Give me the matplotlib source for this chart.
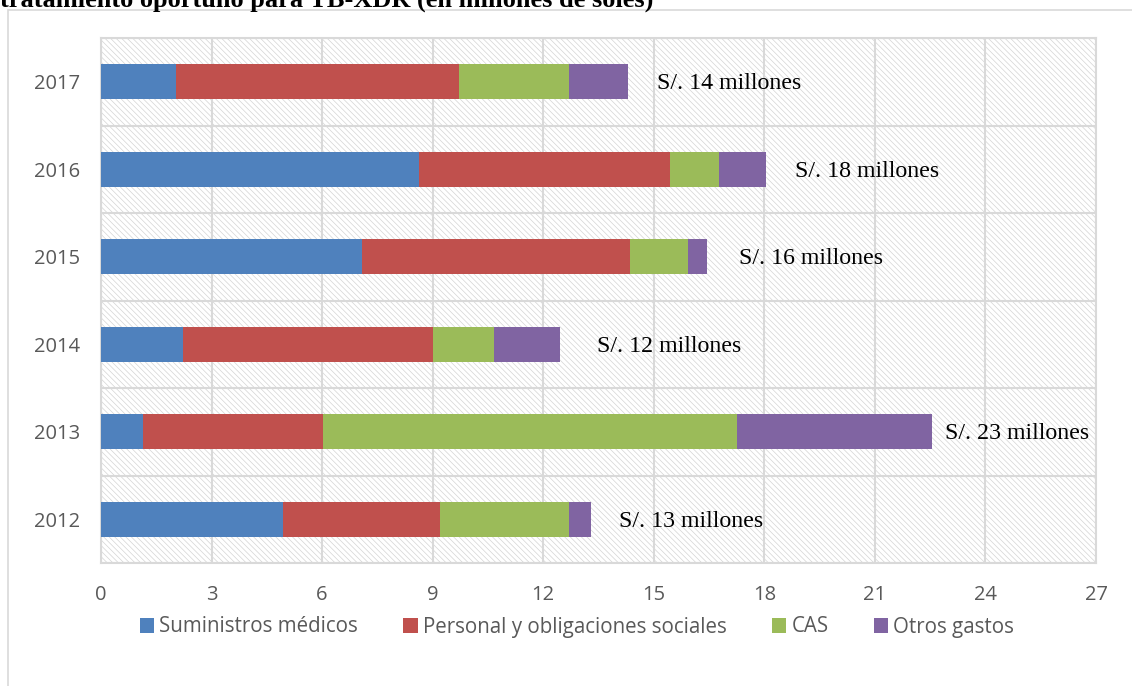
import matplotlib
matplotlib.use("Agg")
import matplotlib.pyplot as plt
from matplotlib.patches import Rectangle
import numpy as np

# Data (millones de soles)
years = ["2012", "2013", "2014", "2015", "2016", "2017"]
suministros = [4.93, 1.13, 2.23, 7.07, 8.62, 2.04]
personal = [4.27, 4.90, 6.79, 7.29, 6.83, 7.68]
cas = [3.51, 11.24, 1.65, 1.58, 1.32, 2.97]
otros = [0.59, 5.28, 1.79, 0.50, 1.27, 1.60]
total_labels = ["S/. 13 millones", "S/. 23 millones", "S/. 12 millones",
                "S/. 16 millones", "S/. 18 millones", "S/. 14 millones"]

series_names = ["Suministros médicos", "Personal y obligaciones sociales", "CAS", "Otros gastos"]
colors = ["#4F81BD", "#C0504D", "#9BBB59", "#8064A2"]

plt.rcParams["hatch.linewidth"] = 0.5
plt.rcParams["hatch.color"] = "#d4d4d4"

fig = plt.figure(figsize=(11.32, 6.86), dpi=100)

# outer chart frame (runs off the right/bottom edge like the source)
fig.patches.append(Rectangle((8 / 1132, -0.1), 1.2, 1 - 10 / 686 + 0.1, transform=fig.transFigure,
                             fill=False, edgecolor="#d9d9d9", linewidth=1.2))

# cropped title at the very top
fig.text(0.0, 1 - 7 / 686, "tratamiento oportuno para TB-XDR (en millones de soles)",
         family="Liberation Serif", fontweight="bold", fontsize=19, va="baseline", ha="left")

ax = fig.add_axes([101 / 1132, 1 - 563 / 686, 995 / 1132, 525 / 686])
ax.add_patch(Rectangle((0, 0), 1, 1, transform=ax.transAxes, facecolor="white",
                       hatch="\\\\\\\\\\\\", edgecolor="#d4d4d4", linewidth=0, zorder=0))

y = np.arange(len(years))
left = np.zeros(len(years))
for vals, name, c in zip([suministros, personal, cas, otros], series_names, colors):
    ax.barh(y, vals, left=left, height=0.40, color=c, label=name, zorder=3)
    left += np.array(vals)

pads = [28, 13, 37, 32, 29, 29]
for yi, tot, lab, p in zip(y, left, total_labels, pads):
    ax.annotate(lab, (tot, yi), xytext=(p, -2), textcoords="offset pixels",
                va="center", ha="left", family="Liberation Serif", fontsize=17.2, color="black", zorder=4)

ax.set_xlim(0, 27)
ax.set_ylim(-0.5, 5.5)
ax.set_xticks(range(0, 28, 3))
ax.set_yticks(y)
ax.set_yticklabels(years)
ax.set_yticks(np.arange(-0.5, 6, 1), minor=True)
ax.grid(axis="x", color="#d9d9d9", linewidth=1.5, zorder=1)
ax.grid(axis="y", which="minor", color="#d9d9d9", linewidth=1.5, zorder=1)
ax.tick_params(axis="both", which="both", length=0, colors="#595959", labelsize=14.5)
ax.tick_params(axis="x", pad=16)
ax.tick_params(axis="y", pad=15)
for lbl in ax.get_xticklabels() + ax.get_yticklabels():
    lbl.set_family("Open Sans")
for s in ax.spines.values():
    s.set_color("#d9d9d9")
    s.set_linewidth(1.5)

fig.legend(loc="center", bbox_to_anchor=(577 / 1132, 1 - 627 / 686), ncol=4, frameon=False,
           prop={"family": "Open Sans", "size": 14.8}, labelcolor="#595959",
           handlelength=0.7, handleheight=0.7, handletextpad=0.25, columnspacing=2.2)

fig.savefig("out.png", dpi=100)
